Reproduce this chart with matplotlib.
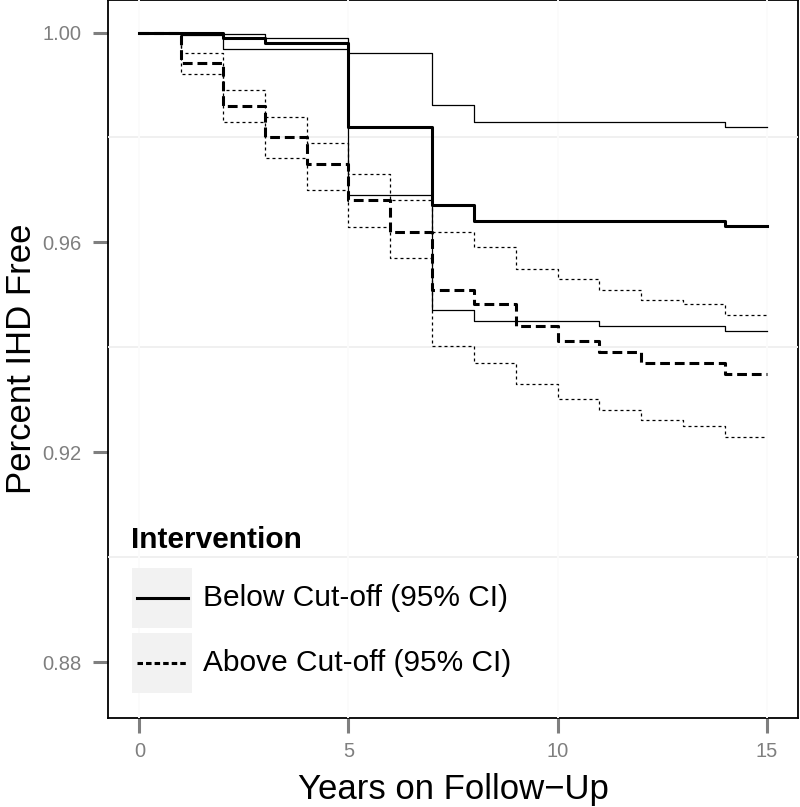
import matplotlib
matplotlib.use('Agg')
import matplotlib.pyplot as plt
from matplotlib.lines import Line2D
from matplotlib.patches import Rectangle

# follow-up years (step starts)
years = [0, 1, 2, 3, 4, 5, 6, 7, 8, 9, 10, 11, 12, 13, 14, 15]

# Below cut-off: estimate and 95% CI
below_est = [1.0000, 1.0000, 0.9990, 0.9980, 0.9980, 0.9820, 0.9820, 0.9671,
             0.9641, 0.9641, 0.9641, 0.9641, 0.9641, 0.9641, 0.9631, 0.9631]
below_upper = [1.0000, 1.0000, 0.9998, 0.9990, 0.9990, 0.9960, 0.9960, 0.9861,
               0.9830, 0.9830, 0.9830, 0.9830, 0.9830, 0.9830, 0.9820, 0.9820]
below_lower = [1.0000, 0.9996, 0.9969, 0.9969, 0.9969, 0.9690, 0.9690, 0.9471,
               0.9450, 0.9450, 0.9450, 0.9441, 0.9441, 0.9441, 0.9432, 0.9432]

# Above cut-off: estimate and 95% CI
above_est = [1.0000, 0.9941, 0.9860, 0.9801, 0.9750, 0.9681, 0.9620, 0.9510,
             0.9482, 0.9441, 0.9413, 0.9392, 0.9371, 0.9371, 0.9350, 0.9350]
above_upper = [1.0000, 0.9960, 0.9890, 0.9839, 0.9790, 0.9731, 0.9681, 0.9620,
               0.9592, 0.9550, 0.9531, 0.9510, 0.9491, 0.9482, 0.9461, 0.9461]
above_lower = [1.0000, 0.9921, 0.9830, 0.9761, 0.9700, 0.9630, 0.9571, 0.9402,
               0.9371, 0.9331, 0.9302, 0.9281, 0.9262, 0.9251, 0.9230, 0.9230]

x_ticks = [0, 5, 10, 15]
y_ticks = [0.88, 0.92, 0.96, 1.00]
y_tick_labels = ['0.88', '0.92', '0.96', '1.00']
legend_title = 'Intervention'
legend_labels = ['Below Cut-off (95% CI)', 'Above Cut-off (95% CI)']

plt.rcParams['font.family'] = ['Liberation Sans', 'DejaVu Sans']

fig = plt.figure(figsize=(8, 8.07), dpi=100)
ax = fig.add_axes([0.135, 0.1103, 0.8625, 0.8891])

thick = 2.2
thin = 0.9
dash_thick = (0, (3.2, 1.6))
dot_thin = (0, (2.4, 2.4))

ax.step(years, below_upper, where='post', color='black', lw=thin, zorder=3)
ax.step(years, below_lower, where='post', color='black', lw=thin, zorder=3)
ax.step(years, above_upper, where='post', color='black', lw=thin, ls=dot_thin, zorder=3)
ax.step(years, above_lower, where='post', color='black', lw=thin, ls=dot_thin, zorder=3)
ax.step(years, above_est, where='post', color='black', lw=thick, ls=dash_thick, zorder=4)
ax.step(years, below_est, where='post', color='black', lw=thick, zorder=5)

ax.set_xlim(-0.75, 15.75)
ax.set_ylim(0.8694, 1.0061)

# faint grid drawn over the panel border, like the original
for yv in [0.90, 0.94, 0.98]:
    ax.axhline(yv, color='#f0f0f0', lw=1.4, zorder=2.6)
for xv in x_ticks:
    ax.axvline(xv, color='#fbfbfb', lw=1.4, zorder=2.6)

for sp in ax.spines.values():
    sp.set_color('black')
    sp.set_linewidth(1.3)

ax.set_xticks(x_ticks)
ax.set_xticklabels([str(v) for v in x_ticks])
ax.set_yticks(y_ticks)
ax.set_yticklabels(y_tick_labels)
ax.tick_params(axis='both', length=11, width=2.2, color='#7f7f7f',
               labelcolor='#7f7f7f', labelsize=14.5)
ax.tick_params(axis='x', pad=6)
ax.tick_params(axis='y', pad=8)

ax.set_xlabel('Years on Follow\u2212Up', fontsize=25, labelpad=9)
ax.set_ylabel('Percent IHD Free', fontsize=25, labelpad=3)

# legend drawn by hand to get the grey key boxes
ax.text(0.0333, 0.248, legend_title, transform=ax.transAxes, fontsize=21.5,
        fontweight='bold', va='center', ha='left')
key_boxes = [0.1254, 0.0348]
key_lines = [0.1672, 0.0767]
key_styles = [dict(ls='-', lw=2.2), dict(ls=(0, (1.8, 1.0)), lw=2.2)]
for yb, yl, style, label in zip(key_boxes, key_lines, key_styles, legend_labels):
    ax.add_patch(Rectangle((0.0348, yb), 0.087, 0.0836, transform=ax.transAxes,
                           facecolor='#f2f2f2', edgecolor='none', zorder=6))
    ax.add_line(Line2D([0.042, 0.116], [yl, yl], transform=ax.transAxes,
                       color='black', zorder=7, **style))
    ax.text(0.1377, yl, label, transform=ax.transAxes, fontsize=21.5,
            va='center', ha='left', zorder=7)

fig.savefig('out.png', dpi=100)
